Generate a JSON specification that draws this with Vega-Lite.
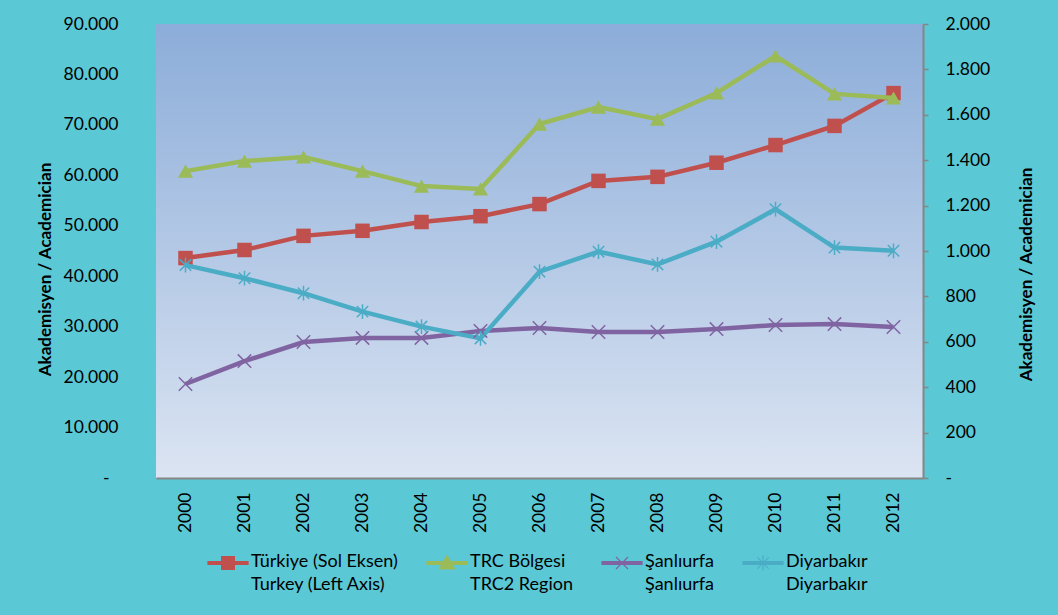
{
"$schema": "https://vega.github.io/schema/vega-lite/v6.json",
"width": 767, "height": 454,
"autosize": "none",
"padding": {"left": 156, "top": 24, "right": 135, "bottom": 137},
"background": "#5BC8D5",
"config": {
  "font": "Lato",
  "view": {"fill": {"gradient": "linear", "x1": 0, "y1": 0, "x2": 0, "y2": 1, "stops": [{"offset": 0, "color": "#8CADD9"}, {"offset": 1, "color": "#DBE4F2"}]}, "stroke": null},
  "axis": {"labelFont": "Lato", "labelFontSize": 17.5, "labelColor": "#000000", "titleFont": "Lato", "titleFontSize": 17, "titleFontWeight": "bold", "titleColor": "#000000", "grid": false},
  "legend": {"labelFont": "Lato", "labelFontSize": 18, "labelColor": "#000000"}
},
"data": {"values": [
  {"year": "2000", "s": "T", "v": 43600}, {"year": "2001", "s": "T", "v": 45200}, {"year": "2002", "s": "T", "v": 48000}, {"year": "2003", "s": "T", "v": 49000}, {"year": "2004", "s": "T", "v": 50750}, {"year": "2005", "s": "T", "v": 51900}, {"year": "2006", "s": "T", "v": 54300}, {"year": "2007", "s": "T", "v": 58900}, {"year": "2008", "s": "T", "v": 59700}, {"year": "2009", "s": "T", "v": 62500}, {"year": "2010", "s": "T", "v": 66000}, {"year": "2011", "s": "T", "v": 69800}, {"year": "2012", "s": "T", "v": 76300},
  {"year": "2000", "s": "R", "v": 1352}, {"year": "2001", "s": "R", "v": 1396}, {"year": "2002", "s": "R", "v": 1414}, {"year": "2003", "s": "R", "v": 1352}, {"year": "2004", "s": "R", "v": 1286}, {"year": "2005", "s": "R", "v": 1273}, {"year": "2006", "s": "R", "v": 1559}, {"year": "2007", "s": "R", "v": 1634}, {"year": "2008", "s": "R", "v": 1581}, {"year": "2009", "s": "R", "v": 1696}, {"year": "2010", "s": "R", "v": 1859}, {"year": "2011", "s": "R", "v": 1692}, {"year": "2012", "s": "R", "v": 1674},
  {"year": "2000", "s": "S", "v": 414}, {"year": "2001", "s": "S", "v": 515}, {"year": "2002", "s": "S", "v": 599}, {"year": "2003", "s": "S", "v": 617}, {"year": "2004", "s": "S", "v": 617}, {"year": "2005", "s": "S", "v": 648}, {"year": "2006", "s": "S", "v": 661}, {"year": "2007", "s": "S", "v": 643}, {"year": "2008", "s": "S", "v": 643}, {"year": "2009", "s": "S", "v": 656}, {"year": "2010", "s": "S", "v": 674}, {"year": "2011", "s": "S", "v": 678}, {"year": "2012", "s": "S", "v": 665},
  {"year": "2000", "s": "D", "v": 938}, {"year": "2001", "s": "D", "v": 880}, {"year": "2002", "s": "D", "v": 814}, {"year": "2003", "s": "D", "v": 733}, {"year": "2004", "s": "D", "v": 667}, {"year": "2005", "s": "D", "v": 615}, {"year": "2006", "s": "D", "v": 909}, {"year": "2007", "s": "D", "v": 997}, {"year": "2008", "s": "D", "v": 941}, {"year": "2009", "s": "D", "v": 1041}, {"year": "2010", "s": "D", "v": 1184}, {"year": "2011", "s": "D", "v": 1015}, {"year": "2012", "s": "D", "v": 1001}
]},
"encoding": {
  "x": {"field": "year", "type": "ordinal", "scale": {"type": "point", "padding": 0.5},
    "axis": {"title": null, "labelAngle": 270, "labelPadding": 14, "ticks": false, "domain": true, "domainColor": "#868686", "domainWidth": 2}},
  "color": {"field": "s", "type": "nominal",
    "scale": {"domain": ["T", "R", "S", "D"], "range": ["#C0504D", "#9BBB59", "#8064A2", "#4BACC6"]},
    "legend": {"orient": "none", "legendX": 51, "legendY": 518, "direction": "horizontal", "columns": 4, "columnPadding": 26, "title": null, "padding": 0,
      "symbolSize": 1600, "labelOffset": 2, "labelLimit": 400,
      "labelExpr": "datum.value === 'T' ? ['Türkiye (Sol Eksen)', 'Turkey (Left Axis)'] : datum.value === 'R' ? ['TRC Bölgesi', 'TRC2 Region'] : datum.value === 'S' ? ['Şanlıurfa', 'Şanlıurfa'] : ['Diyarbakır', 'Diyarbakır']",
      "encode": {
        "symbols": {"update": {
          "shape": {"signal": "datum.value === 'T' ? 'M-1,-0.075H1V0.075H-1ZM-0.32,-0.32H0.32V0.32H-0.32Z' : datum.value === 'R' ? 'M-1,-0.075H1V0.075H-1ZM0,-0.36L0.38,0.3H-0.38Z' : datum.value === 'S' ? 'M-1,-0.075H1V0.075H-1ZM-0.3,-0.3L0.3,0.3M-0.3,0.3L0.3,-0.3' : 'M-1,-0.075H1V0.075H-1ZM-0.28,-0.28L0.28,0.28M-0.28,0.28L0.28,-0.28M0,-0.38V0.38'"},
          "fill": {"signal": "datum.value === 'T' ? '#C0504D' : datum.value === 'R' ? '#9BBB59' : datum.value === 'S' ? '#8064A2' : '#4BACC6'"},
          "stroke": {"signal": "datum.value === 'T' ? '#C0504D' : datum.value === 'R' ? '#9BBB59' : datum.value === 'S' ? '#8064A2' : '#4BACC6'"},
          "strokeWidth": {"value": 1.2},
          "opacity": {"value": 1}
        }},
        "labels": {"update": {"baseline": {"value": "top"}, "dy": {"value": -10}, "lineHeight": {"value": 23}}}
      }
    }}
},
"layer": [
  {
    "transform": [{"filter": "datum.s === 'T'"}],
    "encoding": {"y": {"field": "v", "type": "quantitative", "scale": {"domain": [0, 90000], "nice": false},
      "axis": {"orient": "left", "values": [0, 10000, 20000, 30000, 40000, 50000, 60000, 70000, 80000, 90000], "domain": false, "ticks": false,
        "labelPadding": {"condition": {"test": "datum.value === 0", "value": 47}, "value": 38},
        "labelExpr": "datum.value === 0 ? '-' : replace(format(datum.value, ','), ',', '.')",
        "title": "Akademisyen / Academician", "titlePadding": 9, "titleY": 245}}},
    "layer": [
      {"mark": {"type": "line", "strokeWidth": 4.5}},
      {"mark": {"type": "point", "shape": "square", "filled": true, "size": 210, "opacity": 1}}
    ]
  },
  {
    "transform": [{"filter": "datum.s !== 'T'"}],
    "encoding": {"y": {"field": "v", "type": "quantitative", "scale": {"domain": [0, 2000], "nice": false},
      "axis": {"orient": "right", "values": [0, 200, 400, 600, 800, 1000, 1200, 1400, 1600, 1800, 2000], "domain": true, "domainColor": "#868686", "domainWidth": 2, "ticks": true, "tickSize": 5, "tickColor": "#868686", "tickWidth": 1.5, "labelPadding": 17,
        "labelExpr": "datum.value === 0 ? '-' : replace(format(datum.value, ','), ',', '.')",
        "title": "Akademisyen / Academician", "titleAngle": 270, "titlePadding": 46, "titleY": 250}}},
    "layer": [
      {"mark": {"type": "line", "strokeWidth": 4.5}},
      {"transform": [{"filter": "datum.s === 'R'"}], "mark": {"type": "point", "shape": "triangle-up", "filled": true, "size": 230, "opacity": 1}},
      {"transform": [{"filter": "datum.s !== 'R'"}], "mark": {"type": "point", "filled": false, "size": 180, "opacity": 1, "strokeWidth": 1.5},
        "encoding": {"shape": {"field": "s", "type": "nominal", "legend": null,
          "scale": {"domain": ["S", "D"], "range": ["M-1,-1L1,1M-1,1L1,-1", "M-0.85,-0.85L0.85,0.85M-0.85,0.85L0.85,-0.85M0,-1.1V1.1"]}}}}
    ]
  }
],
"resolve": {"scale": {"y": "independent"}}
}
